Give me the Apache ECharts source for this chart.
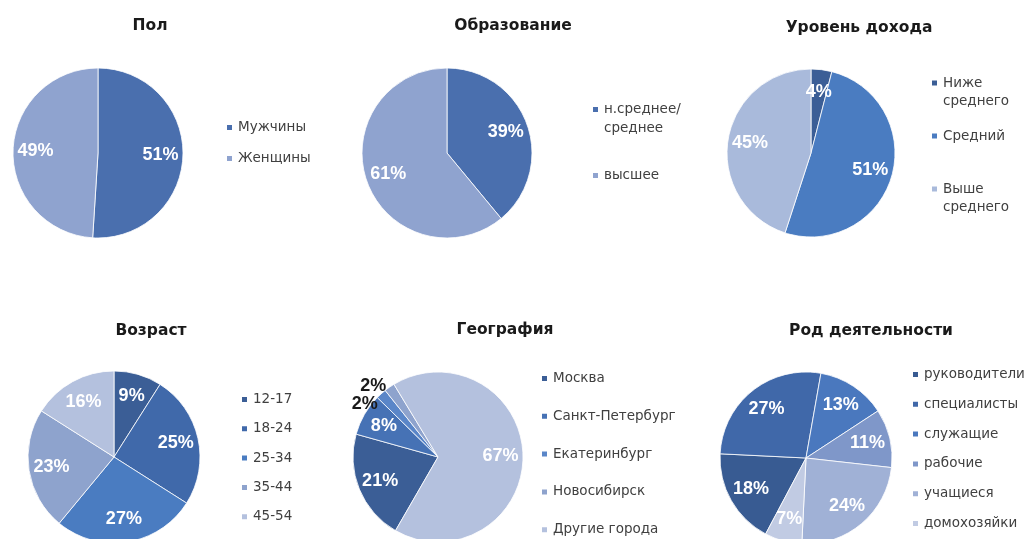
<!DOCTYPE html>
<html>
<head>
<meta charset="utf-8">
<script src="https://cdn.jsdelivr.net/npm/echarts@6/dist/echarts.min.js"></script>
<style>
  html, body { margin: 0; padding: 0; background: #ffffff; }
  #chart { width: 1027px; height: 539px; }
</style>
</head>
<body>
<div id="chart"></div>
<script>
// Survey audience profile: six pie charts
const titles = ['Пол', 'Образование', 'Уровень дохода', 'Возраст', 'География', 'Род деятельности'];

const genderNames = ['Мужчины', 'Женщины'];
const genderValues = [51, 49];

const eduNames = ['н.среднее/\nсреднее', 'высшее'];
const eduValues = [39, 61];

const incomeNames = ['Ниже\nсреднего', 'Средний', 'Выше\nсреднего'];
const incomeValues = [4, 51, 45];

const ageNames = ['12-17', '18-24', '25-34', '35-44', '45-54'];
const ageValues = [9, 25, 27, 23, 16];

const geoNames = ['Москва', 'Санкт-Петербург', 'Екатеринбург', 'Новосибирск', 'Другие города'];
const geoValues = [21, 8, 2, 2, 67];

const jobNames = ['руководители', 'специалисты', 'служащие', 'рабочие', 'учащиеся', 'домохозяйки'];
const jobValues = [18, 27, 13, 11, 24, 7];

// slices smaller than this get their label outside the pie
const OUTSIDE_LABEL_BELOW = 3;

const LABEL_FONT = '"Liberation Sans", Arial, sans-serif';
const TEXT_FONT = '"DejaVu Sans", Verdana, sans-serif';

const panels = [
  { names: genderNames, values: genderValues, colors: ['#4a6fae', '#8fa3cf'],
    center: [98, 153], r: 85, start: 90, title: [150, 18],
    legend: { left: 225, top: 119, gap: 14, lh: 17 } },
  { names: eduNames, values: eduValues, colors: ['#4a6fae', '#8fa3cf'],
    center: [447, 153], r: 85, start: 90, title: [513, 18],
    legend: { left: 591, top: 81, gap: 28, lh: 19 } },
  { names: incomeNames, values: incomeValues, colors: ['#3b5e96', '#4a7cc1', '#a9badb'],
    center: [811, 153], r: 84, start: 90, title: [859, 20],
    legend: { left: 930, top: 56, gap: 17, lh: 18 } },
  { names: ageNames, values: ageValues, colors: ['#3b5e96', '#4069aa', '#4a7cc1', '#8ea3cd', '#b4c1de'],
    center: [114, 457], r: 86, start: 90, title: [151, 323],
    legend: { left: 240, top: 391, gap: 12.3, lh: 17 } },
  { names: geoNames, values: geoValues, colors: ['#3b5e96', '#4672b5', '#5a86c8', '#8ea3cd', '#b4c1de'],
    center: [438, 457], r: 85, start: 240, title: [505, 322],
    legend: { left: 540, top: 370, gap: 20.8, lh: 17 } },
  { names: jobNames, values: jobValues, colors: ['#385b92', '#4068a9', '#4a78be', '#7f97c9', '#a0b1d6', '#c1cbe3'],
    center: [806, 458], r: 86, start: 242, title: [871, 323],
    legend: { left: 911, top: 366, gap: 12.8, lh: 17 } }
];

const titleOpts = [];
const legendOpts = [];
const seriesOpts = [];

panels.forEach((p, i) => {
  titleOpts.push({
    text: titles[i],
    left: p.title[0],
    top: p.title[1],
    textAlign: 'center',
    padding: 0,
    textStyle: { fontFamily: TEXT_FONT, fontSize: 15.5, fontWeight: 'bold', color: '#1a1a1a' }
  });

  legendOpts.push({
    orient: 'vertical',
    left: p.legend.left,
    top: p.legend.top,
    itemGap: p.legend.gap,
    itemWidth: 7,
    itemHeight: 7,
    icon: 'rect',
    padding: 0,
    selectedMode: false,
    data: p.names,
    // two-line entries keep the marker beside their first line
    formatter: name => name.indexOf('\n') >= 0 ? '\n' + name : name,
    textStyle: { fontFamily: TEXT_FONT, fontSize: 13.5, color: '#404040', lineHeight: p.legend.lh }
  });

  // the pie itself
  seriesOpts.push({
    type: 'pie',
    center: p.center,
    radius: p.r,
    startAngle: p.start,
    clockwise: true,
    silent: true,
    animation: false,
    label: { show: false },
    labelLine: { show: false },
    itemStyle: { borderColor: '#ffffff', borderWidth: 0.8 },
    data: p.names.map((n, k) => ({ name: n, value: p.values[k], itemStyle: { color: p.colors[k] } }))
  });

  // a transparent ring on top carries the percentage labels further out from the centre
  const isSmall = k => p.values[k] < OUTSIDE_LABEL_BELOW;
  seriesOpts.push({
    type: 'pie',
    center: p.center,
    radius: [p.r * 0.4, p.r],
    startAngle: p.start,
    clockwise: true,
    silent: true,
    animation: false,
    avoidLabelOverlap: false,
    // only the outside labels of tiny slices are pushed apart vertically
    labelLayout: params => (isSmall(params.dataIndex) ? { moveOverlap: 'shiftY' } : {}),
    itemStyle: { color: 'rgba(0,0,0,0)', borderWidth: 0 },
    label: {
      show: true,
      position: 'inside',
      formatter: '{c}%',
      fontFamily: LABEL_FONT,
      fontSize: 18,
      fontWeight: 'bold',
      color: '#ffffff'
    },
    labelLine: { show: false },
    data: p.names.map((n, k) => {
      const item = { name: n, value: p.values[k] };
      if (isSmall(k)) {
        item.label = { position: 'outside', color: '#1a1a1a', distanceToLabelLine: 2 };
        item.labelLine = { show: false, length: 2, length2: 0 };
      }
      return item;
    })
  });
});

const chart = echarts.init(document.getElementById('chart'), null, { renderer: 'canvas' });
chart.setOption({
  backgroundColor: '#ffffff',
  animation: false,
  title: titleOpts,
  legend: legendOpts,
  series: seriesOpts
});
</script>
</body>
</html>
